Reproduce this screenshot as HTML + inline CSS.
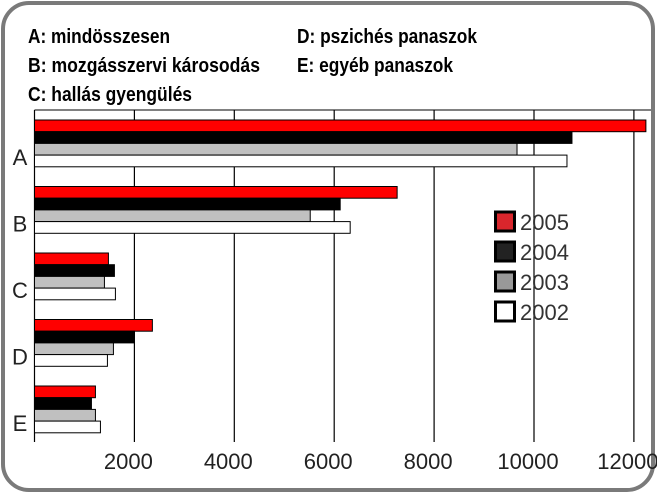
<!DOCTYPE html>
<html><head><meta charset="utf-8"><style>
html,body{margin:0;padding:0;background:#fff;}
svg{display:block;}
</style></head><body>
<svg id="chart" width="657" height="494" xmlns="http://www.w3.org/2000/svg">
<rect x="3" y="3" width="650" height="487" rx="26" ry="26" fill="#fff" stroke="#7a7a7a" stroke-width="4"/>
<g font-family="'Liberation Sans', sans-serif" font-weight="bold" font-size="20" fill="#000">
<text x="28" y="43" textLength="142" lengthAdjust="spacingAndGlyphs">A: mindösszesen</text>
<text x="28" y="72" textLength="232" lengthAdjust="spacingAndGlyphs">B: mozgásszervi károsodás</text>
<text x="28" y="101" textLength="164" lengthAdjust="spacingAndGlyphs">C: hallás gyengülés</text>
<text x="297" y="43" textLength="180" lengthAdjust="spacingAndGlyphs">D: pszichés panaszok</text>
<text x="297" y="72" textLength="156" lengthAdjust="spacingAndGlyphs">E: egyéb panaszok</text>
</g>
<g id="plot"></g>
<g id="legend"></g>
</svg>
<script>
const categories = ["A","B","C","D","E"];
const years = ["2005","2004","2003","2002"];
const v2005 = [12240, 7260, 1480, 2360, 1220];
const v2004 = [10760, 6120, 1600, 2000, 1140];
const v2003 = [9660, 5520, 1400, 1580, 1220];
const v2002 = [10660, 6320, 1620, 1460, 1320];
const ticks = [2000, 4000, 6000, 8000, 10000, 12000];

const NS = "http://www.w3.org/2000/svg";
const plotG = document.getElementById("plot");
const legendG = document.getElementById("legend");
const x0 = 34.5, pxPer = 0.04995, plotTop = 110, plotBottom = 442;
const groupTop0 = 120, groupStep = 66.5, barH = 11.7;
const colors = ["#ff0000", "#000000", "#c0c0c0", "#ffffff"];
const series = [v2005, v2004, v2003, v2002];
function xs(v){ return x0 + v * pxPer; }
function mk(tag, attrs){ const e = document.createElementNS(NS, tag); for (const k in attrs) e.setAttribute(k, attrs[k]); return e; }

const tl = mk("line", {x1: x0, y1: plotTop, x2: 651, y2: plotTop, stroke: "#000", "stroke-width": 1});


plotG.appendChild(tl);

ticks.forEach(t => {
  const g = mk("line", {x1: xs(t), y1: plotTop, x2: xs(t), y2: plotBottom, stroke: "#000", "stroke-width": 1.2});
  
  
  plotG.appendChild(g);
  const lb = mk("text", {x: xs(t) - 6, y: 469, "text-anchor": "middle", "font-family": "'Liberation Sans', sans-serif", "font-size": 22, fill: "#222"});
  lb.textContent = t;
  
  
  plotG.appendChild(lb);
});

const ax = mk("line", {x1: x0, y1: plotTop, x2: x0, y2: plotBottom, stroke: "#000", "stroke-width": 1.2});


plotG.appendChild(ax);

categories.forEach((c, i) => {
  const gy = groupTop0 + i * groupStep;
  series.forEach((s, j) => {
    const r = mk("rect", {x: x0, y: gy + j * barH, width: xs(s[i]) - x0, height: barH, fill: colors[j], stroke: "#000", "stroke-width": 1});
    
    
    plotG.appendChild(r);
  });
  const t = mk("text", {x: 20, y: gy + 4 * barH - 2, "text-anchor": "middle", "font-family": "'Liberation Sans', sans-serif", "font-size": 22, fill: "#222"});
  t.textContent = c;
  
  
  plotG.appendChild(t);
});

const legendFills = ["#d9262c", "#222222", "#999999", "#ffffff"];
years.forEach((y, j) => {
  const by = 212 + j * 30;
  const b = mk("rect", {x: 495.5, y: by, width: 19, height: 19, fill: legendFills[j], stroke: "#000", "stroke-width": 3});
  
  
  legendG.appendChild(b);
  const t = mk("text", {x: 520, y: by + 18, "font-family": "'Liberation Sans', sans-serif", "font-size": 22, fill: "#333"});
  t.textContent = y;
  
  
  legendG.appendChild(t);
});
</script>
</body></html>
